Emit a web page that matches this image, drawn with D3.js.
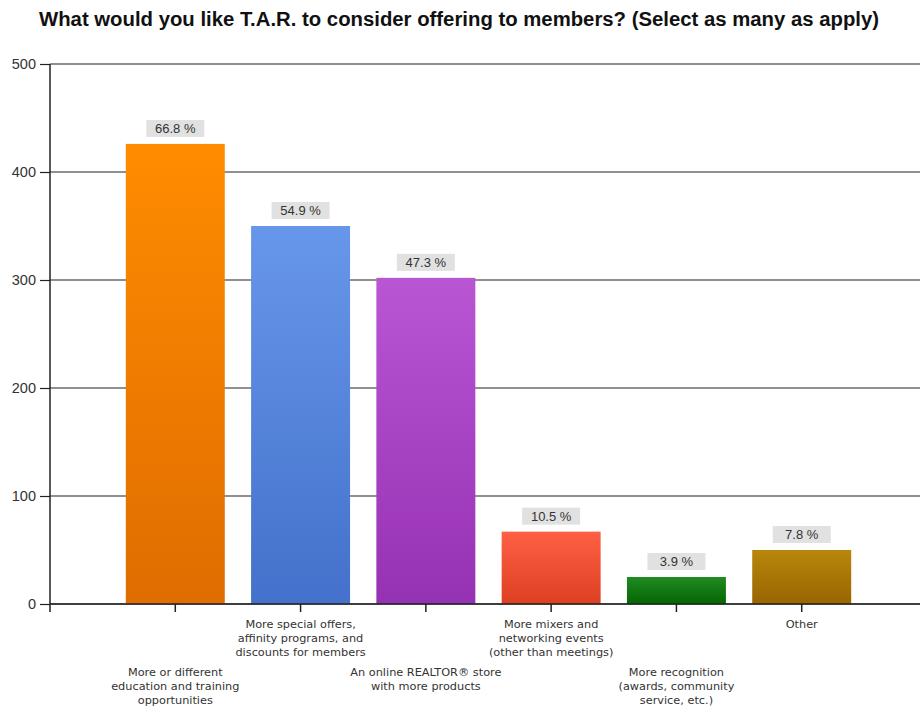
<!DOCTYPE html>
<html>
<head>
<meta charset="utf-8">
<script src="https://cdn.jsdelivr.net/npm/d3@7"></script>
<style>
  html, body { margin: 0; padding: 0; background: #fff; }
  svg { display: block; }
</style>
</head>
<body>
<svg id="chart" width="920" height="709"></svg>
<script>
// Survey question: what members would like T.A.R. to offer (multiple answers allowed)
const chartTitle = "What would you like T.A.R. to consider offering to members? (Select as many as apply)";

const categories = [
  ["More or different", "education and training", "opportunities"],
  ["More special offers,", "affinity programs,  and", "discounts for members"],
  ["An online REALTOR\u00AE store", "with more products"],
  ["More mixers and", "networking events", "(other than meetings)"],
  ["More recognition", "(awards, community", "service, etc.)"],
  ["Other"]
];

// Number of respondents choosing each option
const responseCounts = [426, 350, 302, 67, 25, 50];
const totalRespondents = 638;

const yTicks = [0, 100, 200, 300, 400, 500];

// Gradient colour pairs (top, bottom) for each bar
const barColors = [
  ["#ff8c00", "#df6d00"],
  ["#6797ea", "#4371cb"],
  ["#b956d4", "#9531b3"],
  ["#ff6045", "#dc3f22"],
  ["#228b22", "#036603"],
  ["#b8870b", "#986500"]
];

const svg = d3.select("#chart");
const W = 920, H = 709;
const plotLeft = 50, plotTop = 64, plotBottom = 604;

const keys = categories.map((c, i) => "c" + i);

const x = d3.scaleBand()
  .domain(keys)
  .range([plotLeft, plotLeft + 877])
  .paddingInner(0.21)
  .paddingOuter(0.605);

const y = d3.scaleLinear()
  .domain([0, 500])
  .range([plotBottom, plotTop]);

// Title
svg.append("text")
  .attr("x", 459)
  .attr("y", 26)
  .attr("text-anchor", "middle")
  .attr("font-family", "Liberation Sans, Arial, sans-serif")
  .attr("font-weight", "bold")
  .attr("font-size", 20)
  .attr("fill", "#111")
  .attr("textLength", 840)
  .attr("lengthAdjust", "spacingAndGlyphs")
  .text(chartTitle);

// Horizontal gridlines
svg.append("g")
  .selectAll("line")
  .data(yTicks)
  .join("line")
  .attr("x1", plotLeft)
  .attr("x2", W)
  .attr("y1", d => y(d))
  .attr("y2", d => y(d))
  .attr("stroke", "#222")
  .attr("stroke-width", 1.2);

// Gradients
const defs = svg.append("defs");
barColors.forEach((c, i) => {
  const g = defs.append("linearGradient")
    .attr("id", "grad" + i)
    .attr("x1", 0).attr("y1", 0).attr("x2", 0).attr("y2", 1);
  g.append("stop").attr("offset", "0%").attr("stop-color", c[0]);
  g.append("stop").attr("offset", "100%").attr("stop-color", c[1]);
});

// Bars
svg.append("g")
  .selectAll("rect")
  .data(responseCounts)
  .join("rect")
  .attr("x", (d, i) => x(keys[i]))
  .attr("width", x.bandwidth())
  .attr("y", d => y(d))
  .attr("height", d => y(0) - y(d))
  .attr("fill", (d, i) => `url(#grad${i})`);

// Value labels (percentage of respondents)
const labels = svg.append("g")
  .selectAll("g")
  .data(responseCounts)
  .join("g")
  .attr("transform", (d, i) => `translate(${x(keys[i]) + x.bandwidth() / 2},${y(d) - 7})`);

labels.append("rect")
  .attr("x", -29)
  .attr("y", -17)
  .attr("width", 58)
  .attr("height", 17)
  .attr("fill", "#e1e1e1");

labels.append("text")
  .attr("x", 0)
  .attr("y", -4)
  .attr("text-anchor", "middle")
  .attr("font-family", "Liberation Sans, Arial, sans-serif")
  .attr("font-size", 13)
  .attr("fill", "#333")
  .text(d => (d / totalRespondents * 100).toFixed(1) + " %");

// Y axis
const yAxis = svg.append("g")
  .attr("transform", `translate(${plotLeft},0)`)
  .call(d3.axisLeft(y).tickValues(yTicks).tickSize(10).tickPadding(4).tickFormat(d3.format("d")));
yAxis.select(".domain").remove();
yAxis.selectAll(".tick line").attr("stroke", "#222").attr("stroke-width", 1.2);
yAxis.selectAll(".tick text")
  .attr("font-family", "Liberation Sans, Arial, sans-serif")
  .attr("font-size", 14.5)
  .attr("fill", "#333");
yAxis.append("line")
  .attr("x1", 0).attr("x2", 0)
  .attr("y1", plotTop).attr("y2", plotBottom + 8)
  .attr("stroke", "#222").attr("stroke-width", 1.5);

// X axis with staggered category labels
const xAxis = svg.append("g")
  .attr("transform", `translate(0,${plotBottom})`)
  .call(d3.axisBottom(x).tickSize(8).tickFormat(""));
xAxis.select(".domain").remove();
xAxis.selectAll(".tick line").attr("stroke", "#222").attr("stroke-width", 1.5);
svg.append("line")
  .attr("x1", plotLeft).attr("x2", W)
  .attr("y1", plotBottom).attr("y2", plotBottom)
  .attr("stroke", "#222").attr("stroke-width", 1.5);

const catLabels = svg.append("g")
  .selectAll("text")
  .data(categories)
  .join("text")
  .attr("text-anchor", "middle")
  .attr("font-family", "DejaVu Sans, Verdana, sans-serif")
  .attr("font-size", 11.3)
  .attr("fill", "#333")
  .attr("transform", (d, i) => `translate(${x(keys[i]) + x.bandwidth() / 2},${i % 2 === 0 ? 676 : 628})`);

catLabels.selectAll("tspan")
  .data(d => d)
  .join("tspan")
  .attr("x", 0)
  .attr("dy", (d, j) => j === 0 ? 0 : 14)
  .text(d => d);
</script>
</body>
</html>
